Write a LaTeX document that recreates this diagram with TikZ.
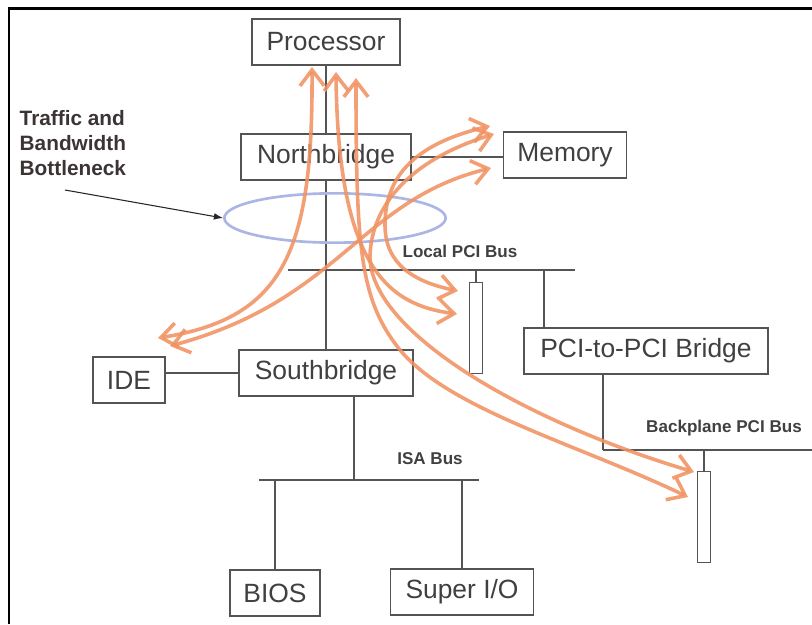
\documentclass[tikz,border=0pt]{standalone}
\usepackage{fontspec}
\setmainfont{Liberation Sans}
\usetikzlibrary{arrows.meta,shapes.geometric}
\definecolor{BoxLine}{gray}{0.33}
\definecolor{BoxText}{gray}{0.25}
\definecolor{NoteText}{RGB}{60,52,52}
\definecolor{TrafficOrange}{RGB}{241,146,98}
\definecolor{NeckBlue}{RGB}{172,182,228}
\tikzset{
  box/.style={
    draw=BoxLine,
    line width=0.9pt,
    fill=white,
    text=BoxText,
    minimum height=34.5pt,
    inner sep=2pt,
    font=\fontsize{19.8}{22}\selectfont
  },
  slot/.style={
    draw=BoxLine,
    line width=0.8pt,
    fill=white,
    minimum width=10pt,
    minimum height=68pt,
    inner sep=0pt
  },
  busline/.style={
    draw=BoxLine,
    line width=0.9pt
  },
  buslabel/.style={
    text=BoxText,
    font=\fontsize{12.8}{14}\selectfont\bfseries
  },
  traffic/.style={
    {Straight Barb[length=4.2mm,width=6.4mm]}-{Straight Barb[length=4.2mm,width=6.4mm]},
    draw=TrafficOrange,
    line width=2.7pt,
    opacity=0.88
  },
  pointer/.style={
    -{Latex[length=2.4mm]},
    line width=0.8pt,
    draw=black!85
  }
}

\begin{document}
\begin{tikzpicture}[x=0.75pt, y=-0.75pt]
\useasboundingbox (0,0) rectangle (812,624);
\draw[line width=1.6pt] (9,624) -- (9,8.5) -- (812,8.5);

% chipset and devices
\node[box, minimum width=111pt] (proc) at (326,42) {Processor};
\node[box, minimum width=127.5pt] (north) at (326,157) {Northbridge};
\node[box, minimum width=92pt] (mem) at (565,155) {Memory};
\node[box, minimum width=130.5pt] (south) at (326,373) {Southbridge};
\node[box, minimum width=54pt] (ide) at (129,380) {IDE};
\node[box, minimum width=183pt] (bridge) at (646,351) {PCI-to-PCI Bridge};
\node[box, minimum width=67.5pt] (bios) at (275,593) {BIOS};
\node[box, minimum width=107pt] (superio) at (462,592) {Super I/O};
\node[slot] (slotA) at (476,328) {};
\node[slot] (slotB) at (704,517) {};

% buses
\coordinate (lpL) at (288,270);
\coordinate (lpR) at (575,270);
\coordinate (lpB) at (544,270);
\coordinate (isaL) at (259,480);
\coordinate (isaR) at (479,480);
\coordinate (isaT) at (354,480);
\coordinate (bpL) at (603,450);
\coordinate (bpR) at (812,450);
\draw[busline] (lpL) -- (lpR);
\draw[busline] (isaL) -- (isaR);
\draw[busline] (bpL) -- (bpR);
\node[buslabel] (lplabel) at (460,251) {Local PCI Bus};
\node[buslabel] (isalabel) at (430,459) {ISA Bus};
\node[buslabel] (bplabel) at (724,428) {Backplane PCI Bus};

\draw[busline] (proc.south) -- (north.north);
\draw[busline] (north.south) -- (south.north);
\draw[busline] (north.east) -- (north.east -| mem.west);
\draw[busline] (south.west) -- (south.west -| ide.east);
\draw[busline] (slotA.north) -- (slotA.north |- lpL);
\draw[busline] (lpB) -- (lpB |- bridge.north);
\draw[busline] (isaT |- south.south) -- (isaT);
\draw[busline] (bios.north) -- (bios.north |- isaL);
\draw[busline] (superio.north) -- (superio.north |- isaL);
\draw[busline] (bpL |- bridge.south) -- (bpL);
\draw[busline] (slotB.north) -- (slotB.north |- bpL);

% bottleneck
\node[draw=NeckBlue, line width=2pt, ellipse, minimum width=166pt,
  minimum height=37pt, inner sep=0pt] (neck) at (335,218) {};
\node[anchor=west, align=left, text=NoteText,
  font=\fontsize{15.6}{18.75}\selectfont\bfseries] (note) at (15,143)
  {Traffic and\\Bandwidth\\Bottleneck};
\coordinate (ptr) at (65,190);
\draw[pointer] (ptr) -- (neck.west);

% traffic
\coordinate (p1) at (312,67);
\coordinate (p2) at (336,72);
\coordinate (p3) at (356,78);
\coordinate (m1) at (490,126);
\coordinate (m2) at (494,134);
\coordinate (m3) at (491,168);
\coordinate (i1) at (158,338);
\coordinate (i2) at (170,346);
\coordinate (a1) at (458,291);
\coordinate (a2) at (457,314);
\coordinate (b1) at (694,472);
\coordinate (b2) at (688,497);
\draw[traffic] (p1) .. controls (313,250) and (285,318) .. (i1);
\draw[traffic] (m3) .. controls (360,200) and (340,300) .. (i2);
\draw[traffic] (p2) .. controls (338,270) and (390,305) .. (a2);
\draw[traffic] (m1) .. controls (410,145) and (385,180) .. (385,225)
  .. controls (385,265) and (415,282) .. (a1);
\draw[traffic] (p3) .. controls (356,250) and (360,300) .. (400,350)
  .. controls (450,410) and (580,445) .. (b2);
\draw[traffic] (m2) .. controls (410,160) and (372,205) .. (370,255)
  .. controls (368,330) and (520,420) .. (b1);
\end{tikzpicture}
\end{document}
